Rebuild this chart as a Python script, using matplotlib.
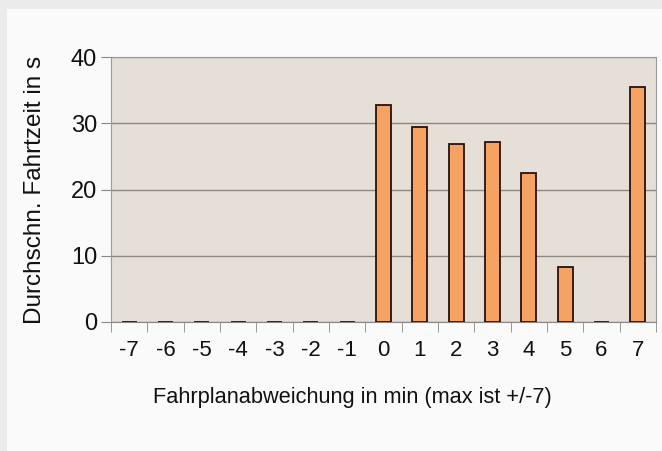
"""
Durchschnittliche Fahrtzeit je Fahrplanabweichung
"""
import matplotlib.pyplot as plt
from matplotlib.patches import Rectangle

plt.rcParams['font.family'] = ['Liberation Sans', 'DejaVu Sans']

abweichung = [-7, -6, -5, -4, -3, -2, -1, 0, 1, 2, 3, 4, 5, 6, 7]
fahrtzeit = [0, 0, 0, 0, 0, 0, 0, 32.7, 29.4, 26.9, 27.2, 22.5, 8.35, 0, 35.4]

fig = plt.figure(figsize=(6.62, 4.51), dpi=100, facecolor='#ebebeb')
# white panel behind the chart
fig.patches.append(Rectangle((7 / 662, 0), 1, 1 - 9 / 451, transform=fig.transFigure,
                             facecolor='#fafafa', edgecolor='none', zorder=-5))

ax = fig.add_axes([111 / 662, 1 - 322 / 451, 545 / 662, 265 / 451])
ax.set_facecolor('#e6dfd8')

pos = list(range(len(abweichung)))
ax.bar(pos, fahrtzeit, width=0.42, color='#f5a262', edgecolor='#2a1010', linewidth=1.3, zorder=3)

ax.set_xlim(-0.5, len(abweichung) - 0.5)
ax.set_ylim(0, 40)
ax.set_yticks([0, 10, 20, 30, 40])
ax.set_xticks(pos)
ax.set_xticklabels([str(a) for a in abweichung])
ax.set_xticks([p - 0.5 for p in pos] + [len(pos) - 0.5], minor=True)
ax.tick_params(axis='x', which='major', length=0, pad=13, labelsize=16, labelcolor='#111111')
ax.tick_params(axis='x', which='minor', length=7, color='#888888')
ax.tick_params(axis='y', length=7, color='#888888', labelsize=17, pad=3, labelcolor='#111111')

ax.grid(axis='y', color='#8c8884', linewidth=1.0, zorder=1)
for s in ax.spines.values():
    s.set_color('#9a9a9a')
ax.spines['bottom'].set_color('#888888')

ax.set_xlabel("Fahrplanabweichung in min (max ist +/-7)", fontsize=15.7, color='#111111')
ax.set_ylabel("Durchschn. Fahrtzeit in s", fontsize=17.5, color='#111111')
ax.xaxis.set_label_coords(0.443, -0.245)
ax.yaxis.set_label_coords(-0.12, 0.5)

plt.savefig("out.png", dpi=100, facecolor=fig.get_facecolor())
